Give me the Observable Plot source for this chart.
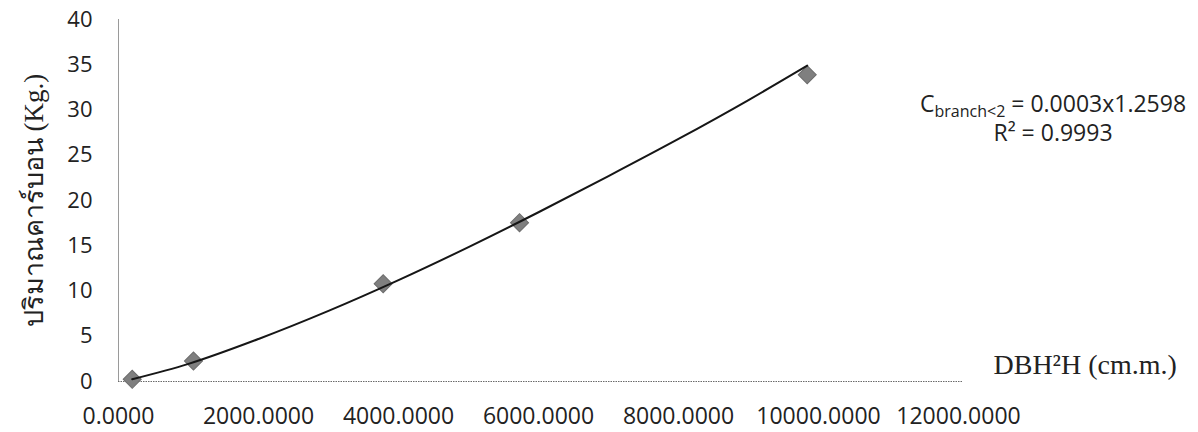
<!DOCTYPE html>
<html><head><meta charset="utf-8">
<script src="https://cdn.jsdelivr.net/npm/d3@7"></script>
<script src="https://cdn.jsdelivr.net/npm/@observablehq/plot@0.6"></script>
<style>body{margin:0;background:#fff;} #chart svg{display:block;}</style>
</head><body><div id="chart"></div>
<script>
// measured points (DBH²H in cm.m., carbon in Kg.)
const dbh2h  = [196, 1071, 3781, 5729, 9839];
const carbon = [0.24, 2.26, 10.8, 17.55, 33.9];
// power trendline
const trendX = [196, 1000, 2000, 3000, 4000, 5000, 6000, 7000, 8000, 9000, 9839];
const trendY = [0.25, 1.95, 4.7, 7.8, 11.2, 14.85, 18.7, 22.7, 26.8, 31.1, 34.9];
const xTicks = [0, 2000, 4000, 6000, 8000, 10000, 12000];
const yTicks = [0, 5, 10, 15, 20, 25, 30, 35, 40];
const yLabel = "ปริมาณคาร์บอน (Kg.)";
const xLabel = "DBH²H (cm.m.)";
const eqMain = "C", eqSub = "branch<2", eqRest = " = 0.0003x1.2598";
const r2Text = "R² = 0.9993";

const points = dbh2h.map((x, i) => ({x, y: carbon[i]}));
const trend = trendX.map((x, i) => ({x, y: trendY[i]}));

const plot = Plot.plot({
  width: 1198, height: 432,
  marginLeft: 118, marginRight: 240, marginTop: 19, marginBottom: 51,
  style: {fontFamily: "'Open Sans', sans-serif", color: "#262626", background: "#fff"},
  x: {domain: [0, 12000], ticks: xTicks, tickFormat: d3.format(".4f"), label: null},
  y: {domain: [0, 40], ticks: yTicks, label: null},
  marks: [
    Plot.axisX({ticks: xTicks, tickFormat: d3.format(".4f"), tickSize: 0, tickPadding: 26, fontSize: 23, label: null, fill: "#222"}),
    Plot.axisY({ticks: yTicks, tickSize: 0, tickPadding: 26, fontSize: 22, label: null, fill: "#222"}),
    Plot.ruleX([0], {y1: 0, y2: 40, stroke: "#9a9a9a", strokeWidth: 1}),
    Plot.ruleY([0], {x1: 0, x2: 12060, stroke: "#6a6a6a", strokeWidth: 1, strokeDasharray: "1.5,1"}),
    Plot.dot(points, {x: "x", y: "y", symbol: "square", r: 7.2, rotate: 45, fill: "#7f7f7f", stroke: "#6c6c6c", strokeWidth: 1}),
    Plot.line(trend, {x: "x", y: "y", curve: "monotone-x", stroke: "#161616", strokeWidth: 2}),
    Plot.text([xLabel], {frameAnchor: "bottom-right", text: d => d, textAnchor: "start", lineAnchor: "bottom", dx: 35, dy: -8,
      fontFamily: "'Liberation Serif', serif", fontSize: 28, fill: "#222"}),
    Plot.text([yLabel], {frameAnchor: "left", text: d => d, rotate: -90, textAnchor: "middle", lineAnchor: "middle", dx: -84,
      fontFamily: "'Liberation Serif', serif", fontSize: 27, fill: "#222"})
  ]
});
document.getElementById("chart").appendChild(plot);

// regression equation annotation
const svg = d3.select(plot);
const eq = svg.append("text").attr("x", 920).attr("y", 112).attr("text-anchor", "start")
  .attr("font-family", "'Open Sans', sans-serif").attr("font-size", 23).attr("fill", "#222");
eq.append("tspan").text(eqMain);
eq.append("tspan").attr("font-size", 16).attr("dy", 5).text(eqSub);
eq.append("tspan").attr("dy", -5).text(eqRest);
svg.append("text").attr("x", 1053).attr("y", 141).attr("text-anchor", "middle")
  .attr("font-family", "'Open Sans', sans-serif").attr("font-size", 23).attr("fill", "#222")
  .text(r2Text);
</script></body></html>
